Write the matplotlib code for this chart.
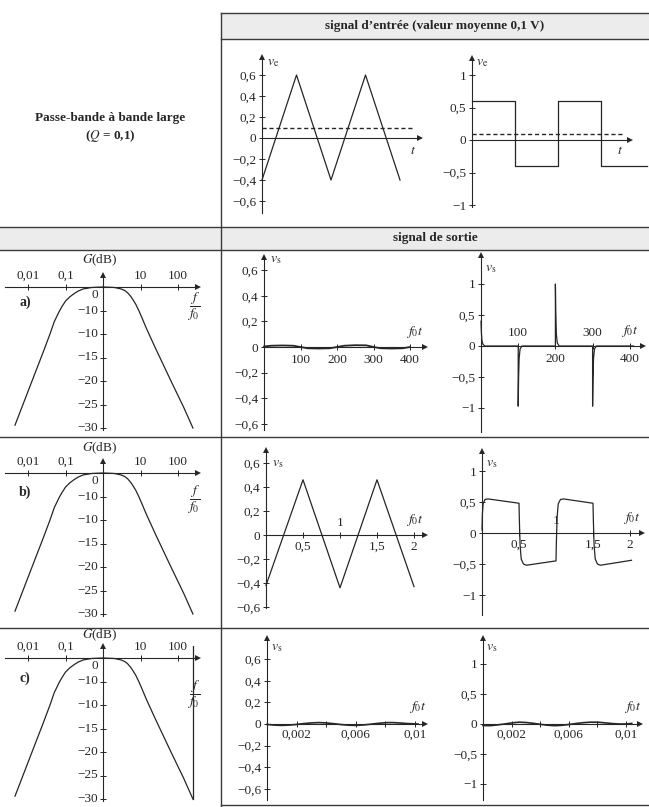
import numpy as np
import matplotlib
matplotlib.use("Agg")
import matplotlib.pyplot as plt

plt.rcParams['font.family'] = ['Liberation Serif', 'DejaVu Serif']
plt.rcParams['mathtext.fontset'] = 'stix'
plt.rcParams['axes.unicode_minus'] = True

# ---------------- data ----------------
# input signals (mean value 0.1 V)
tri_in_t = [0.0, 0.5, 1.0, 1.5, 2.0]
tri_in_v = [-0.4, 0.6, -0.4, 0.6, -0.4]
sq_in_t = [0.0, 0.5, 0.5, 1.0, 1.0, 1.5, 1.5, 2.03]
sq_in_v = [0.6, 0.6, -0.4, -0.4, 0.6, 0.6, -0.4, -0.4]
mean_in = 0.1

# gain of the wide band-pass filter (Q = 0.1)
gain_f = [0.0045, 0.0128, 0.025, 0.0386, 0.05, 0.067, 0.08, 0.1, 0.13, 0.17, 0.22,
          0.3, 0.5, 1.0, 2.0, 3.0, 3.8, 4.5, 5.5, 6.3, 7.5, 9.0, 11.0, 14.0, 25.0,
          65.0, 140.0, 250.0]
gain_db = [-29.4, -20.0, -14.0, -10.0, -7.4, -5.3, -4.2, -3.0, -2.1, -1.4, -0.85,
           -0.4, -0.1, 0.0, -0.1, -0.4, -0.75, -1.2, -2.0, -2.7, -3.7, -5.0, -6.6,
           -8.6, -13.0, -20.0, -25.5, -30.0]
gain_ticks_db = [0, -5, -10, -15, -20, -25, -30]
gain_tick_txt = ['0', '−10', '−10', '−15', '−20', '−25', '−30']
freq_ticks = [0.01, 0.1, 10, 100]
freq_tick_txt = ['0,01', '0,1', '10', '100']
signal_freq_c = 250.0

# a) output signals
a_tri_t = [0, 20, 50, 80, 100, 120, 150, 180, 200, 220, 250, 280, 300, 320, 350, 380, 400]
a_tri_v = [0.004, 0.01, 0.012, 0.01, 0.0, -0.01, -0.012, -0.01, 0.0, 0.01, 0.014,
           0.013, 0.0, -0.01, -0.012, -0.01, 0.0]
a_sq_t = [0, 1, 2.5, 5, 10, 100, 100, 101, 102.5, 105, 110, 200, 200, 201, 202.5, 205,
          210, 300, 300, 301, 302.5, 305, 310, 410]
a_sq_v = [0.4, 0.22, 0.09, 0.03, 0.0, 0.0, -0.97, -0.53, -0.2, -0.05, 0.0, 0.0, 1.0,
          0.55, 0.2, 0.05, 0.0, 0.0, -0.97, -0.53, -0.2, -0.05, 0.0, 0.0]

# b) output signals
b_tri_t = [0.0, 0.5, 1.0, 1.5, 2.0]
b_tri_v = [-0.42, 0.46, -0.44, 0.46, -0.43]
b_sq_t = [0.0, 0.005, 0.015, 0.04, 0.08, 0.5, 0.505, 0.515, 0.53, 0.56, 0.6, 1.0,
          1.005, 1.015, 1.03, 1.06, 1.1, 1.5, 1.505, 1.515, 1.53, 1.56, 1.6, 2.02]
b_sq_v = [0.05, 0.3, 0.47, 0.54, 0.55, 0.48, 0.2, -0.2, -0.42, -0.5, -0.52, -0.45,
          -0.15, 0.25, 0.47, 0.54, 0.55, 0.48, 0.2, -0.2, -0.42, -0.5, -0.52, -0.44]

# c) output signals
c_tri_t = [0, 0.0005, 0.001, 0.0015, 0.002, 0.0025, 0.003, 0.0035, 0.004, 0.0045,
           0.005, 0.0055, 0.006, 0.0065, 0.007, 0.0075, 0.008, 0.0085, 0.009, 0.0095, 0.0102]
c_tri_v = [-0.004, -0.01, -0.013, -0.01, -0.004, 0.004, 0.01, 0.013, 0.01, 0.003,
           -0.005, -0.011, -0.013, -0.009, -0.002, 0.006, 0.012, 0.013, 0.009, 0.004, 0.0]
c_sq_t = [0, 0.0005, 0.001, 0.0015, 0.002, 0.0025, 0.003, 0.0035, 0.004, 0.0045,
          0.005, 0.0055, 0.006, 0.0065, 0.007, 0.0075, 0.008, 0.0085, 0.009, 0.0095,
          0.01, 0.0104]
c_sq_v = [-0.025, -0.028, -0.015, 0.0, 0.018, 0.03, 0.025, 0.012, -0.005, -0.02,
          -0.028, -0.022, -0.008, 0.008, 0.022, 0.03, 0.03, 0.02, 0.008, 0.0, 0.0, 0.01]

tri_yticks = [0.6, 0.4, 0.2, 0, -0.2, -0.4, -0.6]
sq_yticks = [1, 0.5, 0, -0.5, -1]

# ---------------- drawing ----------------
W, H = 649, 807
INK = '#262626'
FS = 9.5

fig = plt.figure(figsize=(W / 100, H / 100), dpi=100)
canvas = fig.add_axes([0, 0, 1, 1])
canvas.set_xlim(0, W)
canvas.set_ylim(H, 0)
canvas.axis('off')


def fmt(v):
    s = ('%g' % v).replace('.', ',')
    return s.replace('-', '−')


def make_panel(x0, y0, sx, sy, xlim, ylim, logx=False, yaxis_at=0.0):
    if logx:
        px = lambda v: x0 + sx * np.log10(v)
    else:
        px = lambda v: x0 + sx * v
    left, right = px(xlim[0]), px(xlim[1])
    top, bottom = y0 - sy * ylim[1], y0 - sy * ylim[0]
    ax = fig.add_axes([left / W, 1 - bottom / H, (right - left) / W, (bottom - top) / H])
    if logx:
        ax.set_xscale('log')
    ax.set_xlim(xlim)
    ax.set_ylim(ylim)
    ax.patch.set_visible(False)
    for s in ('top', 'right'):
        ax.spines[s].set_visible(False)
    ax.spines['left'].set_position(('data', yaxis_at))
    ax.spines['bottom'].set_position(('data', 0))
    for s in ('left', 'bottom'):
        ax.spines[s].set_color(INK)
        ax.spines[s].set_linewidth(0.8)
    ax.minorticks_off()
    ax.set_xticks([])
    ax.set_yticks([])
    ax.tick_params(direction='inout', length=4, width=0.7, colors=INK,
                   labelbottom=False, labelleft=False, labelsize=FS, pad=2)
    ax.plot([xlim[1]], [0], marker='>', ms=4.5, color=INK, mew=0, clip_on=False)
    ax.plot([yaxis_at], [ylim[1]], marker='^', ms=4.5, color=INK, mew=0, clip_on=False)
    return ax


def yticks(ax, ticks):
    ax.set_yticks(ticks, [fmt(t) for t in ticks])
    ax.tick_params(labelleft=True)


def xlabels(ax, ticks, sides, dy=12):
    ax.set_xticks(ticks)
    for t, side in zip(ticks, sides):
        off = dy if side == 'up' else -dy
        ax.annotate(fmt(t), (t, 0), xytext=(0, off), textcoords='offset pixels',
                    ha='center', va='center', fontsize=FS, color=INK)


def curve(ax, t, v, lw=0.9):
    ax.plot(t, v, color=INK, lw=lw, clip_on=False)


def ctext(x, y, s, **kw):
    kw.setdefault('fontsize', FS)
    canvas.text(x, y, s, ha=kw.pop('ha', 'center'), va=kw.pop('va', 'center'),
                color=INK, **kw)


# table frame and header bands
canvas.add_patch(plt.Rectangle((221, 13), W - 221, 26, color='#ececec', lw=0))
canvas.add_patch(plt.Rectangle((0, 227), W, 23, color='#ececec', lw=0))
for (xa, xb, y) in [(221, W, 13), (221, W, 39), (0, W, 227), (0, W, 250),
                    (0, W, 437), (0, W, 628), (221, W, 805)]:
    canvas.plot([xa, xb], [y, y], color='#3a3a3a', lw=1.0)
canvas.plot([221, 221], [13, H], color='#3a3a3a', lw=1.0)

ctext(435, 26, 'signal d’entrée (valeur moyenne 0,1 V)', fontweight='bold')
ctext(435, 238, 'signal de sortie', fontweight='bold')
ctext(110, 118, 'Passe-bande à bande large', fontweight='bold', fontsize=9.5)
ctext(110, 136, r'($Q$ = 0,1)', fontweight='bold', fontsize=9.5)

# input: triangle
ax = make_panel(262, 138, 69, 105, (0, 2.29), (-0.71, 0.77))
yticks(ax, tri_yticks)
curve(ax, tri_in_t, tri_in_v)
ax.plot([0, 2.19], [mean_in, mean_in], color=INK, lw=1.0, ls=(0, (3, 2)))
ctext(273, 62, r'$v_{\mathrm{e}}$', fontsize=10)
ctext(413, 150, r'$t$', fontsize=10)

# input: square
ax = make_panel(472, 140, 86, 65, (0, 1.84), (-1.03, 1.26))
yticks(ax, sq_yticks)
curve(ax, sq_in_t, sq_in_v)
ax.plot([0, 1.76], [mean_in, mean_in], color=INK, lw=1.0, ls=(0, (3, 2)))
ctext(482, 62, r'$v_{\mathrm{e}}$', fontsize=10)
ctext(620, 150, r'$t$', fontsize=10)


def bode(y0, sy, letter, let_y, g_y, frac_y, marker=False):
    ax = make_panel(103, y0, 37.5, sy, (10 ** (-98 / 37.5), 10 ** (95 / 37.5)),
                    (-30.4, 2.6), logx=True, yaxis_at=1.0)
    ax.set_xticks(freq_ticks)
    ax.set_yticks(gain_ticks_db)
    ax.minorticks_off()
    curve(ax, gain_f, gain_db)
    for f, s in zip(freq_ticks, freq_tick_txt):
        ax.annotate(s, (f, 0), xytext=(0, 11), textcoords='offset pixels',
                    ha='center', va='center', fontsize=FS, color=INK)
    for d, s in zip(gain_ticks_db, gain_tick_txt):
        ax.annotate(s, (1, d), xytext=(-5, -8 if d == 0 else 0), textcoords='offset pixels',
                    ha='right', va='center', fontsize=FS, color=INK)
    if marker:
        ax.plot([signal_freq_c, signal_freq_c], [2.5, -30], color=INK, lw=0.9)
    ctext(100, g_y, r'$G$(dB)', fontsize=FS)
    ctext(25, let_y, letter, fontweight='bold', fontsize=10)
    ctext(194, frac_y, r'$\dfrac{f}{f_0}$', fontsize=10)
    return ax


# row a
bode(287, 4.7, 'a)', 302, 260, 307)
ax = make_panel(264, 347, 0.365, 128, (0, 441), (-0.65, 0.70))
yticks(ax, tri_yticks)
xlabels(ax, [100, 200, 300, 400], ['down'] * 4, dy=13)
curve(ax, a_tri_t, a_tri_v, lw=1.3)
ctext(276, 259, r'$v_{\mathrm{s}}$', fontsize=10)
ctext(415, 332, r'$f_0t$', fontsize=10)

ax = make_panel(481, 346, 0.372, 62, (0, 436), (-1.39, 1.47))
yticks(ax, sq_yticks)
xlabels(ax, [100, 200, 300, 400], ['up', 'down', 'up', 'down'], dy=13)
curve(ax, a_sq_t, a_sq_v)
ctext(491, 268, r'$v_{\mathrm{s}}$', fontsize=10)
ctext(630, 331, r'$f_0t$', fontsize=10)

# row b
bode(473, 4.7, 'b)', 492, 448, 500)
ax = make_panel(266, 535, 74, 120, (0, 2.15), (-0.61, 0.71))
yticks(ax, tri_yticks)
xlabels(ax, [0.5, 1, 1.5, 2], ['down', 'up', 'down', 'down'], dy=12)
curve(ax, b_tri_t, b_tri_v)
ctext(278, 463, r'$v_{\mathrm{s}}$', fontsize=10)
ctext(415, 520, r'$f_0t$', fontsize=10)

ax = make_panel(482, 533, 74, 62, (0, 2.16), (-1.32, 1.32))
yticks(ax, sq_yticks)
xlabels(ax, [0.5, 1, 1.5, 2], ['down', 'up', 'down', 'down'], dy=12)
curve(ax, b_sq_t, b_sq_v)
ctext(492, 463, r'$v_{\mathrm{s}}$', fontsize=10)
ctext(632, 518, r'$f_0t$', fontsize=10)

# row c
bode(658, 4.7, 'c)', 678, 635, 695, marker=True)
ax = make_panel(267, 724, 14800, 108, (0, 0.0107), (-0.70, 0.80))
yticks(ax, tri_yticks)
xlabels(ax, [0.002, 0.006, 0.01], ['down'] * 3, dy=11)
ax.set_xticks([0.002, 0.004, 0.006, 0.008, 0.01])
curve(ax, c_tri_t, c_tri_v, lw=1.2)
ctext(277, 648, r'$v_{\mathrm{s}}$', fontsize=10)
ctext(418, 707, r'$f_0t$', fontsize=10)

ax = make_panel(483, 724, 14300, 60, (0, 0.0110), (-1.27, 1.43))
yticks(ax, sq_yticks)
xlabels(ax, [0.002, 0.006, 0.01], ['down'] * 3, dy=11)
ax.set_xticks([0.002, 0.004, 0.006, 0.008, 0.01])
curve(ax, c_sq_t, c_sq_v, lw=1.2)
ctext(492, 648, r'$v_{\mathrm{s}}$', fontsize=10)
ctext(633, 707, r'$f_0t$', fontsize=10)

fig.savefig('out.png', dpi=100)
